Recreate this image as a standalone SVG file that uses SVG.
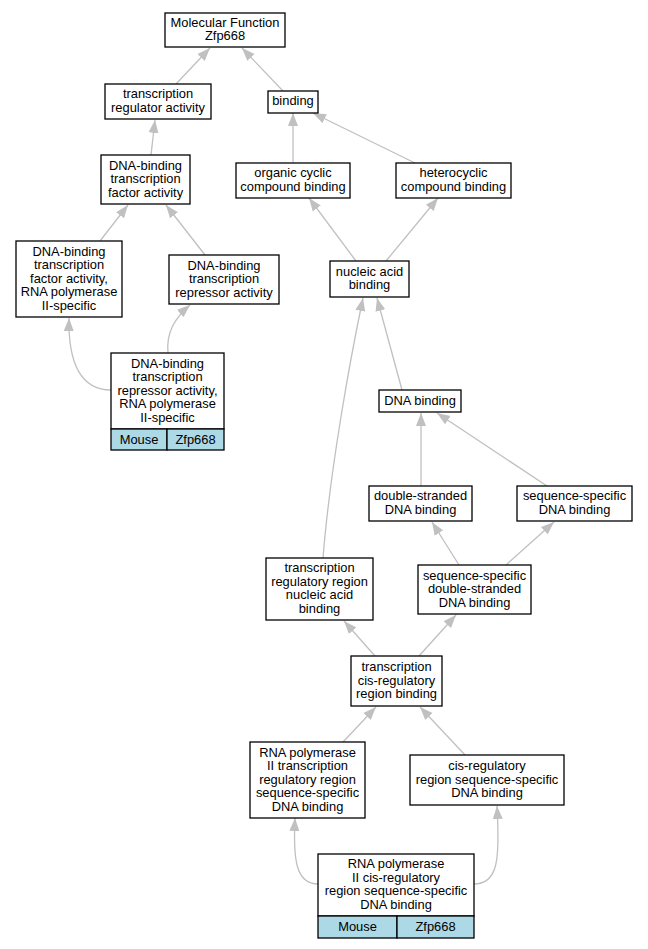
<svg xmlns="http://www.w3.org/2000/svg" width="648" height="949" viewBox="0 0 648 949">
<style>
text{font-family:"Liberation Sans",Arial,sans-serif;font-size:12.9px;text-anchor:middle;fill:#000}
.n{fill:#fff;stroke:#000;stroke-width:1.3}
.t{fill:#add8e6;stroke:#000;stroke-width:1.3}
.e{fill:none;stroke:#c0c0c0;stroke-width:1.3;marker-end:url(#a)}
</style>
<defs>
<marker id="a" markerUnits="userSpaceOnUse" markerWidth="14" markerHeight="11" refX="13" refY="5" orient="auto" viewBox="0 0 14 10">
<path d="M0,0 L13,5 L0,10 z" fill="#c0c0c0"/>
</marker>
</defs>
<rect width="648" height="949" fill="#fff"/>
<g id="edges">
<path class="e" d="M176,84 L210,48"/>
<path class="e" d="M283,91 L242,48"/>
<path class="e" d="M151,155 L155,120"/>
<path class="e" d="M293,163 L293,113"/>
<path class="e" d="M415,163 L313,113"/>
<path class="e" d="M100,241 L128,205"/>
<path class="e" d="M205,255 L166,205"/>
<path class="e" d="M356,261 L309,198"/>
<path class="e" d="M386,261 L438,198"/>
<path class="e" d="M111,390 C82,390 68,365 69,318"/>
<path class="e" d="M168,353 C166,332 175,318 190,305"/>
<path class="e" d="M402,390 L377,298"/>
<path class="e" d="M323,558 C330,470 350,360 363,298"/>
<path class="e" d="M421,486 L421,413"/>
<path class="e" d="M547,486 L437,413"/>
<path class="e" d="M459,565 L432,522"/>
<path class="e" d="M506,565 L554,522"/>
<path class="e" d="M375,656 L344,621"/>
<path class="e" d="M419,656 L456,615"/>
<path class="e" d="M343,742 L376,707"/>
<path class="e" d="M465,755 L420,707"/>
<path class="e" d="M318,884 C296,884 293,860 295,818"/>
<path class="e" d="M474,884 C498,884 500,860 497,806"/>
</g>
<g id="mf"><rect class="n" x="165" y="13" width="120" height="34"/><text x="225" y="26.5">Molecular Function</text><text x="225" y="40">Zfp668</text></g>
<g id="tra"><rect class="n" x="105" y="84" width="106" height="35"/><text x="158" y="98.25">transcription</text><text x="158" y="111.75">regulator activity</text></g>
<g id="binding"><rect class="n" x="268" y="91" width="50" height="22"/><text x="293" y="105">binding</text></g>
<g id="dbtf"><rect class="n" x="101" y="155" width="89" height="49"/><text x="145.5" y="169.5">DNA-binding</text><text x="145.5" y="183">transcription</text><text x="145.5" y="196.5">factor activity</text></g>
<g id="occb"><rect class="n" x="236" y="163" width="114" height="35"/><text x="293" y="177.25">organic cyclic</text><text x="293" y="190.75">compound binding</text></g>
<g id="hcb"><rect class="n" x="396" y="163" width="115" height="35"/><text x="453.5" y="177.25">heterocyclic</text><text x="453.5" y="190.75">compound binding</text></g>
<g id="dbtf2"><rect class="n" x="16" y="241" width="106" height="76"/><text x="69" y="255.5">DNA-binding</text><text x="69" y="269">transcription</text><text x="69" y="282.5">factor activity,</text><text x="69" y="296">RNA polymerase</text><text x="69" y="309.5">II-specific</text></g>
<g id="rep"><rect class="n" x="169" y="255" width="110" height="49"/><text x="224" y="269.5">DNA-binding</text><text x="224" y="283">transcription</text><text x="224" y="296.5">repressor activity</text></g>
<g id="nab"><rect class="n" x="330" y="261" width="79" height="36"/><text x="369.5" y="275.75">nucleic acid</text><text x="369.5" y="289.25">binding</text></g>
<g id="rep2"><rect class="n" x="111" y="353" width="113" height="76"/><rect class="t" x="111" y="429" width="56" height="21"/><rect class="t" x="167" y="429" width="57" height="21"/><text x="167.5" y="367.5">DNA-binding</text><text x="167.5" y="381">transcription</text><text x="167.5" y="394.5">repressor activity,</text><text x="167.5" y="408">RNA polymerase</text><text x="167.5" y="421.5">II-specific</text><text x="139" y="443.5">Mouse</text><text x="195.5" y="443.5">Zfp668</text></g>
<g id="dnab"><rect class="n" x="379" y="390" width="82" height="22"/><text x="420" y="404.5">DNA binding</text></g>
<g id="dsdb"><rect class="n" x="369" y="486" width="103" height="35"/><text x="420.5" y="500.25">double-stranded</text><text x="420.5" y="513.75">DNA binding</text></g>
<g id="ssdb"><rect class="n" x="517" y="486" width="115" height="35"/><text x="574.5" y="500.25">sequence-specific</text><text x="574.5" y="513.75">DNA binding</text></g>
<g id="trrnab"><rect class="n" x="266" y="558" width="107" height="62"/><text x="319.5" y="572.25">transcription</text><text x="319.5" y="585.75">regulatory region</text><text x="319.5" y="599.25">nucleic acid</text><text x="319.5" y="612.75">binding</text></g>
<g id="ssds"><rect class="n" x="418" y="565" width="113" height="49"/><text x="474.5" y="579.5">sequence-specific</text><text x="474.5" y="593">double-stranded</text><text x="474.5" y="606.5">DNA binding</text></g>
<g id="tcr"><rect class="n" x="351" y="656" width="91" height="50"/><text x="396.5" y="671">transcription</text><text x="396.5" y="684.5">cis-regulatory</text><text x="396.5" y="698">region binding</text></g>
<g id="rp2trr"><rect class="n" x="250" y="742" width="115" height="76"/><text x="307.5" y="756.5">RNA polymerase</text><text x="307.5" y="770">II transcription</text><text x="307.5" y="783.5">regulatory region</text><text x="307.5" y="797">sequence-specific</text><text x="307.5" y="810.5">DNA binding</text></g>
<g id="cisreg"><rect class="n" x="410" y="755" width="154" height="50"/><text x="487" y="770">cis-regulatory</text><text x="487" y="783.5">region sequence-specific</text><text x="487" y="797">DNA binding</text></g>
<g id="bottom"><rect class="n" x="318" y="854" width="156" height="62"/><rect class="t" x="318" y="916" width="79" height="22"/><rect class="t" x="397" y="916" width="77" height="22"/><text x="396" y="868.25">RNA polymerase</text><text x="396" y="881.75">II cis-regulatory</text><text x="396" y="895.25">region sequence-specific</text><text x="396" y="908.75">DNA binding</text><text x="357.5" y="930.5">Mouse</text><text x="435.5" y="930.5">Zfp668</text></g>
</svg>
